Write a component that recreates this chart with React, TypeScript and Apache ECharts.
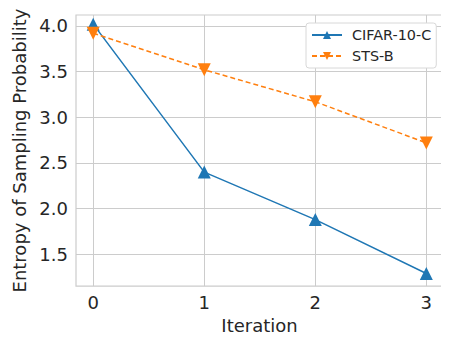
import React, { useEffect, useRef } from "react";
import * as echarts from "echarts";

const iterations = [0, 1, 2, 3];
const cifarValues = [4.02, 2.4, 1.88, 1.29];
const stsbValues = [3.92, 3.52, 3.17, 2.72];
const yTicks = [1.5, 2.0, 2.5, 3.0, 3.5, 4.0];
const xTicks = [0, 1, 2, 3];

export default function App() {
  const ref = useRef<HTMLDivElement>(null);
  useEffect(() => {
    if (!ref.current) return;
    const chart = echarts.init(ref.current, undefined, { renderer: "svg" });
    const font = "DejaVu Sans";
    chart.setOption({
      animation: false,
      textStyle: { fontFamily: font },
      grid: {
        left: 76,
        right: 6,
        top: 15,
        bottom: 50,
        show: true,
        borderColor: "#cccccc",
        borderWidth: 1.2,
        containLabel: false,
      },
      legend: {
        orient: "vertical",
        left: 306,
        top: 23,
        itemWidth: 30,
        itemHeight: 10,
        itemGap: 7,
        padding: [5, 5, 5, 5],
        borderColor: "#d8d8d8",
        borderWidth: 1,
        borderRadius: 3,
        backgroundColor: "#ffffff",
        textStyle: { fontFamily: font, fontSize: 14.4, color: "#262626", padding: [0, 0, 0, 5] },
        data: ["CIFAR-10-C", "STS-B"],
      },
      xAxis: {
        type: "value",
        min: -0.155,
        max: 3.15,
        name: "Iteration",
        nameLocation: "middle",
        nameGap: 27,
        nameTextStyle: { fontFamily: font, fontSize: 18, color: "#262626" },
        axisLine: { show: false },
        axisTick: { show: false, customValues: xTicks },
        axisLabel: {
          customValues: xTicks,
          fontFamily: font,
          fontSize: 18,
          color: "#262626",
          margin: 7,
        },
        splitLine: { show: true, lineStyle: { color: "#cccccc", width: 1 } },
      },
      yAxis: {
        type: "value",
        min: 1.152,
        max: 4.12,
        name: "Entropy of Sampling Probability",
        nameLocation: "middle",
        nameGap: 37,
        nameTextStyle: { fontFamily: font, fontSize: 18, color: "#262626" },
        axisLine: { show: false },
        axisTick: { show: false, customValues: yTicks },
        axisLabel: {
          customValues: yTicks,
          fontFamily: font,
          fontSize: 18,
          color: "#262626",
          margin: 8,
          formatter: (v: number) => v.toFixed(1),
        },
        splitLine: { show: true, lineStyle: { color: "#cccccc", width: 1 } },
      },
      series: [
        {
          name: "CIFAR-10-C",
          type: "line",
          data: iterations.map((x, i) => [x, cifarValues[i]]),
          symbol: "triangle",
          symbolSize: 13,
          itemStyle: { color: "#1f77b4" },
          lineStyle: { color: "#1f77b4", width: 1.5 },
          z: 3,
        },
        {
          name: "STS-B",
          type: "line",
          data: iterations.map((x, i) => [x, stsbValues[i]]),
          symbol: "triangle",
          symbolRotate: 180,
          symbolSize: 13,
          itemStyle: { color: "#ff7f0e" },
          lineStyle: { color: "#ff7f0e", width: 1.5, type: [5, 3] },
          z: 4,
        },
      ],
    });
    return () => chart.dispose();
  }, []);
  return <div ref={ref} style={{ width: 449, height: 339, marginLeft: -8, marginTop: -8 }} />;
}
